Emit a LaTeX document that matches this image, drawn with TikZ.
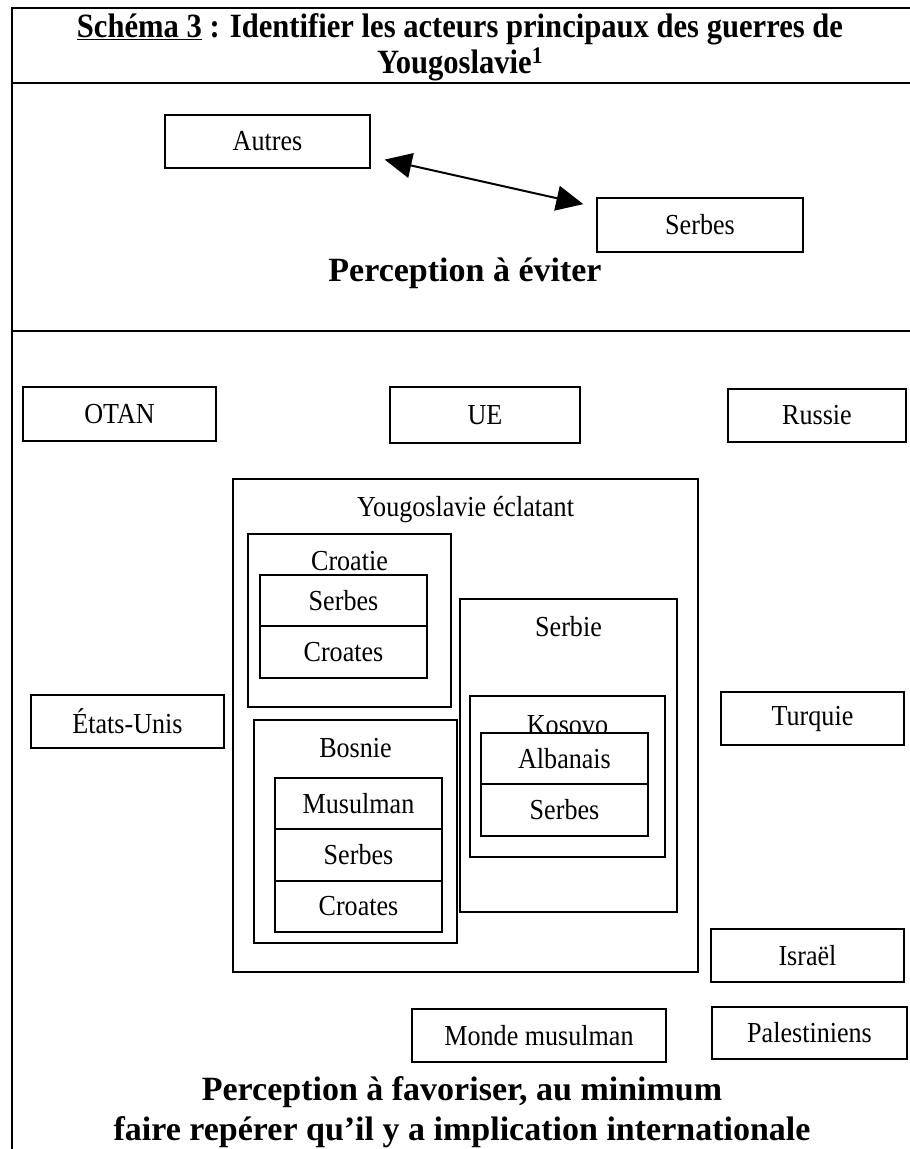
\documentclass[tikz,border=0pt]{standalone}
\usepackage{fontspec}
\setmainfont{Liberation Serif}[FakeStretch=0.9]
\newfontfamily\capfont{Liberation Serif}
\usetikzlibrary{positioning,arrows.meta}

\tikzset{
  actor/.style={draw, line width=2pt, inner sep=0pt, font=\fontsize{29}{34}\selectfont},
  cell/.style={actor, minimum width=167pt, minimum height=51.5pt},
  area/.style={draw, line width=2pt, inner sep=0pt},
  areaname/.style={anchor=base, inner sep=0pt, font=\fontsize{29}{34}\selectfont},
  caption/.style={anchor=base, inner sep=0pt, font=\fontsize{34}{40}\capfont\bfseries},
  headline/.style={anchor=base, inner sep=0pt, font=\fontsize{34}{40}\selectfont\bfseries},
  rule/.style={line width=2.5pt},
  dblarrow/.style={{Triangle[length=27pt,width=25pt]}-{Triangle[length=27pt,width=25pt]}, line width=2pt},
}

\begin{document}
\begin{tikzpicture}[x=1pt, y=-1pt, node distance=51.5pt]
\useasboundingbox (0,0) rectangle (910,1149);

% cadre du tableau
\draw[rule] (12,1149) -- (12,8) -- (910,8);
\draw[rule] (12,83) -- (910,83);
\draw[rule] (12,331) -- (910,331);

% titre
\node (T1) [headline] at (460,37) {\underline{Schéma 3} : Identifier les acteurs principaux des guerres de};
\node (T2) [headline] at (460,73) {Yougoslavie\textsuperscript{1}};

% perception a eviter
\node (autres) [actor, minimum width=205pt, minimum height=53pt] at (267.5,141.5) {Autres};
\node (serbesA) [actor, minimum width=206pt, minimum height=54pt] at (700,225) {Serbes};
\draw[dblarrow, shorten <=14pt, shorten >=13pt] ([yshift=-15pt]autres.east) -- ([yshift=18pt]serbesA.west);
\node (eviter) [caption] at (465,281) {Perception à éviter};

% acteurs exterieurs
\node (otan) [actor, minimum width=193pt, minimum height=54pt] at (119.5,414) {OTAN};
\node (ue) [actor, minimum width=190pt, minimum height=56pt] at (485,415) {UE};
\node (russie) [actor, minimum width=178pt, minimum height=53pt] at (817,415.5) {Russie};
\node (usa) [actor, minimum width=193pt, minimum height=53pt] at (127.5,721.5) {États-Unis};
\node (turquie) [actor, minimum width=183pt, minimum height=53pt] at (812.5,718.5) {Turquie};
\node (israel) [actor, minimum width=193pt, minimum height=53pt] at (807.5,955.5) {Israël};
\node (monde) [actor, minimum width=254pt, minimum height=53pt] at (539,1035.5) {Monde musulman};
\node (palest) [actor, minimum width=195pt, minimum height=52pt] at (809.5,1033) {Palestiniens};

% Yougoslavie
\node (yougo) [area, minimum width=465pt, minimum height=493pt] at (465.5,725.5) {};
\node (yougoT) [areaname] at (465.5,516) {Yougoslavie éclatant};

\node (croatie) [area, minimum width=203pt, minimum height=173pt] at (349.5,620.5) {};
\node (croatieT) [areaname] at (349.5,570) {Croatie};
\node (croSerbes) [cell] at (343.5,600.5) {Serbes};
\node (croCroates) [cell, below of=croSerbes] {Croates};

\node (serbie) [area, minimum width=217pt, minimum height=313pt] at (568.5,755.5) {};
\node (serbieT) [areaname] at (568.5,636) {Serbie};

\node (kosovo) [area, minimum width=195pt, minimum height=161pt] at (567.5,776.5) {};
\node (kosovoT) [areaname] at (567.5,734) {Kosovo};
\node (albanais) [cell, fill=white] at (564.5,758.5) {Albanais};
\node (kosSerbes) [cell, below of=albanais] {Serbes};

\node (bosnie) [area, minimum width=203pt, minimum height=223pt] at (355.5,831.5) {};
\node (bosnieT) [areaname] at (355.5,757) {Bosnie};
\node (musulman) [cell] at (358.5,803.5) {Musulman};
\node (bosSerbes) [cell, below of=musulman] {Serbes};
\node (bosCroates) [cell, below of=bosSerbes] {Croates};

% perception a favoriser
\node (favor1) [caption] at (462,1100) {Perception à favoriser, au minimum};
\node (favor2) [caption] at (462,1140) {faire repérer qu’il y a implication internationale};
\end{tikzpicture}
\end{document}
